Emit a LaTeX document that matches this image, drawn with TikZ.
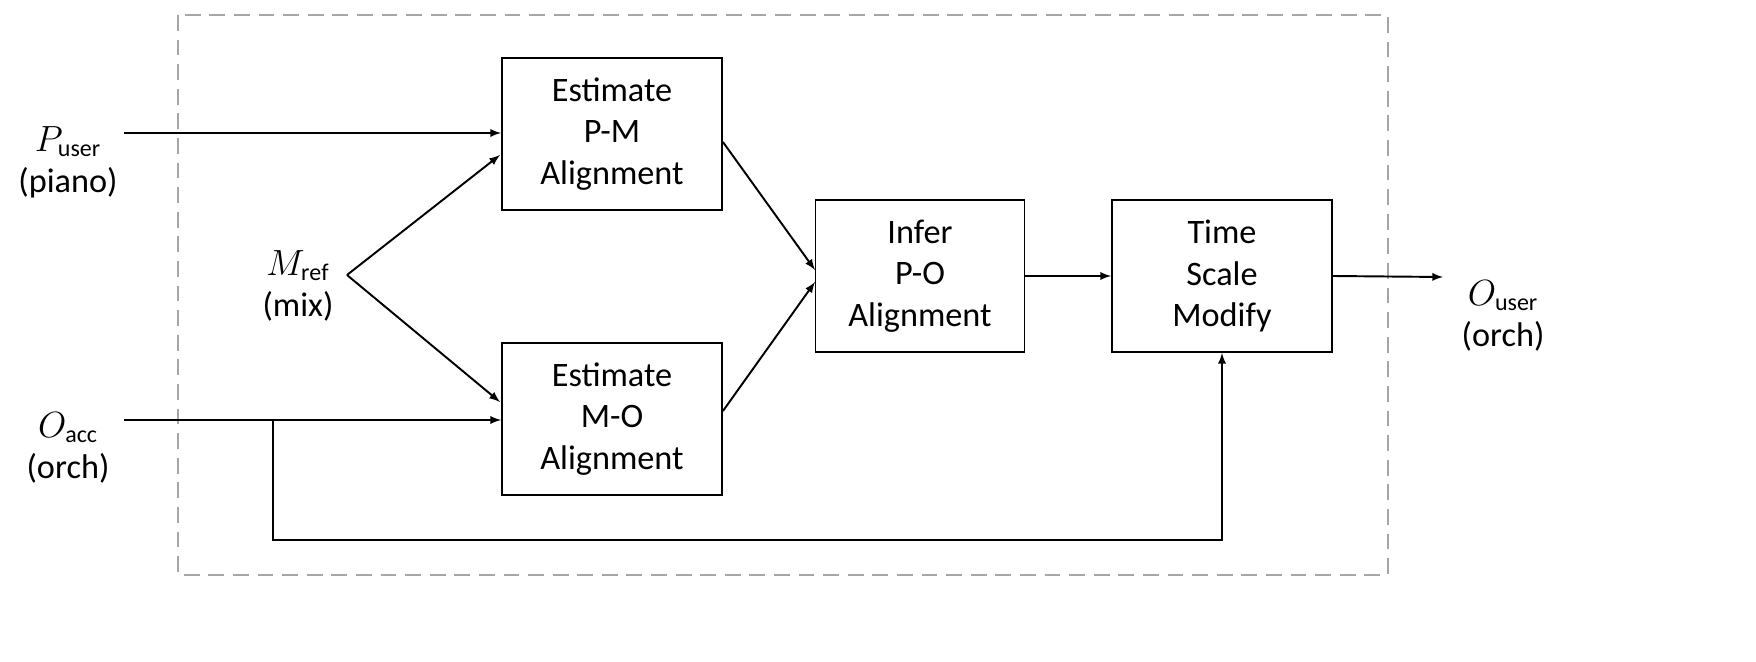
\documentclass[tikz,border=0pt]{standalone}
\usepackage{fontspec}
\setmainfont{Carlito}
\usetikzlibrary{positioning}
\tikzset{blk/.style={draw,line width=1.1pt,minimum width=4.4cm,minimum height=3.04cm,align=center},
	arr/.style={line width=1.1pt,-latex}}
\begin{document}
\begin{tikzpicture}[x=0.02cm,y=-0.02cm]
	\useasboundingbox (0,0) rectangle (1756,662);
	\begin{scope}[font=\fontsize{19.5}{23.5}\selectfont]
	\draw[gray!70,line width=1.1pt,dash pattern=on 9pt off 5pt] (178,15) rectangle (1388,575);
	\node[blk](pm) at (612,134){Estimate\\P-M\\Alignment};
	\node[blk](mo) at (612,419){Estimate\\M-O\\Alignment};
	\node[blk,minimum width=4.18cm](po) at (920,276){Infer\\P-O\\Alignment};
	\node[blk](tsm) at (1222,276){Time\\Scale\\Modify};
	
	\node[align=center](pu) at (68,162){$P_{\mathrm{user}}$\\(piano)};
	\node[align=center](mr) at (298,286){$M_{\mathrm{ref}}$\\(mix)};
	\node[align=center](oa) at (68,448){$O_{\mathrm{acc}}$\\(orch)};
	\node[align=center](ou) at (1503,316){$O_{\mathrm{user}}$\\(orch)};
	
	\coordinate (pu0) at (124,133);
	\coordinate (oa0) at (124,420);
	\coordinate (mr0) at (347,275);
	\coordinate (br) at (273,420);
	\coordinate (ou0) at (1443,277);
	\draw[arr](pu0)--(pu0-|pm.west);
	\draw[arr](oa0)--(oa0-|mo.west);
	\draw[arr](mr0)--(500,155);
	\draw[arr](mr0)--(500,402);
	\draw[arr](br)--(273,540)-|(tsm.south);
	\draw[arr](pm.east)+(0,8)--(815,270);
	\draw[arr](mo.east)+(0,-8)--(815,282);
	\draw[arr](po.east)--(tsm.west);
	\draw[arr](tsm.east)--(ou0);
	\end{scope}
\end{tikzpicture}
\end{document}
